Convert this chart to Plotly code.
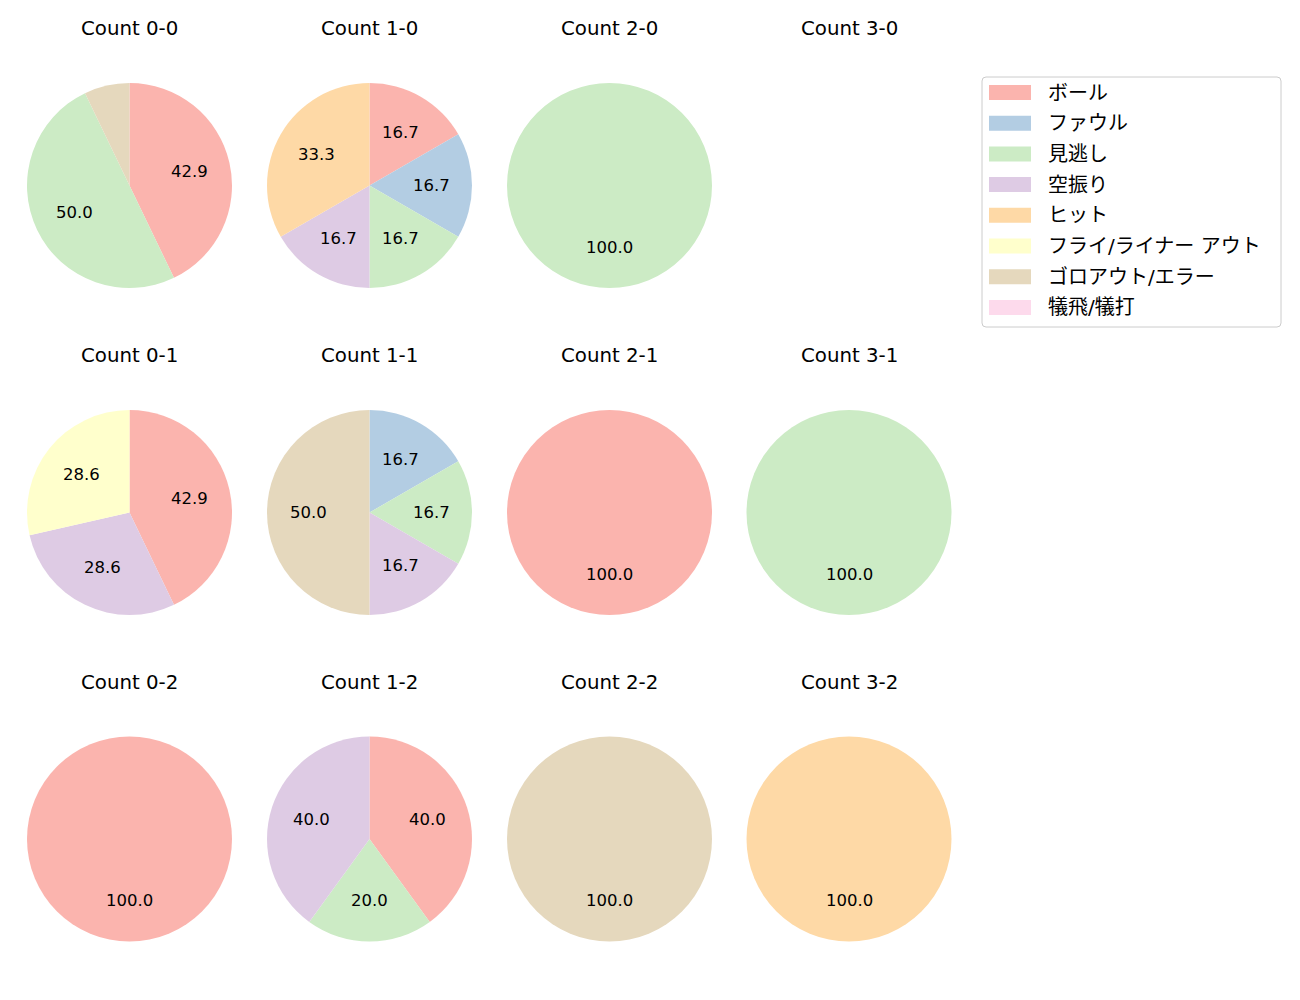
import math
import plotly.graph_objects as go

categories = ['ボール', 'ファウル', '見逃し', '空振り', 'ヒット',
              'フライ/ライナー アウト', 'ゴロアウト/エラー', '犠飛/犠打']
colors = ['#fbb4ae', '#b3cde3', '#ccebc5', '#decbe4', '#fed9a6',
          '#ffffcc', '#e5d8bd', '#fddaec']

titles = ['Count 0-0', 'Count 1-0', 'Count 2-0', 'Count 3-0',
          'Count 0-1', 'Count 1-1', 'Count 2-1', 'Count 3-1',
          'Count 0-2', 'Count 1-2', 'Count 2-2', 'Count 3-2']

c00 = [6, 0, 7, 0, 0, 0, 1, 0]
c10 = [1, 1, 1, 1, 2, 0, 0, 0]
c20 = [0, 0, 1, 0, 0, 0, 0, 0]
c30 = [0, 0, 0, 0, 0, 0, 0, 0]
c01 = [3, 0, 0, 2, 0, 2, 0, 0]
c11 = [0, 1, 1, 1, 0, 0, 3, 0]
c21 = [1, 0, 0, 0, 0, 0, 0, 0]
c31 = [0, 0, 1, 0, 0, 0, 0, 0]
c02 = [1, 0, 0, 0, 0, 0, 0, 0]
c12 = [2, 0, 1, 2, 0, 0, 0, 0]
c22 = [0, 0, 0, 0, 0, 0, 1, 0]
c32 = [0, 0, 0, 0, 1, 0, 0, 0]
panels = [c00, c10, c20, c30, c01, c11, c21, c31, c02, c12, c22, c32]

W, H = 1300, 1000
FONT = 'DejaVu Sans, Noto Sans CJK JP'
col_cx = [129.5, 369.5, 609.5, 849.0]
row_cy = [185.5, 512.5, 839.0]
title_dy = 157
R = 102.5

fig = go.Figure()
annotations = []
for i, (title, vals) in enumerate(zip(titles, panels)):
    r, c = divmod(i, 4)
    cx, cy = col_cx[c], row_cy[r]
    annotations.append(dict(x=cx / W, y=1 - (cy - title_dy) / H, xref='paper', yref='paper',
                            text=title, showarrow=False, xanchor='center', yanchor='middle',
                            font=dict(family=FONT, size=19.8, color='#000')))
    total = sum(vals)
    if total == 0:
        continue
    fig.add_trace(go.Pie(
        labels=categories, values=vals, sort=False, direction='clockwise', rotation=0,
        marker=dict(colors=colors, line=dict(width=0)), textinfo='none', hoverinfo='label+percent',
        showlegend=False,
        domain=dict(x=[(cx - R) / W, (cx + R) / W], y=[1 - (cy + R) / H, 1 - (cy - R) / H]),
    ))
    cum = 0
    for v in vals:
        if v > 0:
            pct = v / total * 100
            theta = math.radians((cum + v / 2) / total * 360)
            if pct >= 10:
                lx = cx + 0.6 * R * math.sin(theta)
                ly = cy - 0.6 * R * math.cos(theta)
                annotations.append(dict(x=lx / W, y=1 - ly / H, xref='paper', yref='paper',
                                        text=f'{pct:.1f}', showarrow=False,
                                        xanchor='center', yanchor='middle',
                                        font=dict(family=FONT, size=16.5, color='#000')))
        cum += v

# legend (drawn manually to mimic the reference)
shapes = []
lx0, lx1, ly0, ly1 = 982, 1281, 77, 327
rr = 4
path = (f'M {(lx0 + rr) / W},{1 - ly0 / H} L {(lx1 - rr) / W},{1 - ly0 / H} '
        f'Q {lx1 / W},{1 - ly0 / H} {lx1 / W},{1 - (ly0 + rr) / H} '
        f'L {lx1 / W},{1 - (ly1 - rr) / H} Q {lx1 / W},{1 - ly1 / H} {(lx1 - rr) / W},{1 - ly1 / H} '
        f'L {(lx0 + rr) / W},{1 - ly1 / H} Q {lx0 / W},{1 - ly1 / H} {lx0 / W},{1 - (ly1 - rr) / H} '
        f'L {lx0 / W},{1 - (ly0 + rr) / H} Q {lx0 / W},{1 - ly0 / H} {(lx0 + rr) / W},{1 - ly0 / H} Z')
shapes.append(dict(type='path', path=path, xref='paper', yref='paper',
                   line=dict(color='#cccccc', width=1), fillcolor='rgba(255,255,255,0.8)'))
for k, (cat, col) in enumerate(zip(categories, colors)):
    yc = 92.5 + k * 30.7
    shapes.append(dict(type='rect', xref='paper', yref='paper',
                       x0=989 / W, x1=1031 / W, y0=1 - (yc - 7.5) / H, y1=1 - (yc + 7.5) / H,
                       line=dict(width=0), fillcolor=col))
    annotations.append(dict(x=1046 / W, y=1 - yc / H, xref='paper', yref='paper',
                            text=cat, showarrow=False, xanchor='left', yanchor='middle',
                            font=dict(family=FONT, size=20, color='#000')))

fig.update_layout(
    width=W, height=H, margin=dict(l=0, r=0, t=0, b=0),
    paper_bgcolor='white', plot_bgcolor='white',
    annotations=annotations, shapes=shapes, showlegend=False,
    font=dict(family=FONT),
)
fig.write_html('out.html')
